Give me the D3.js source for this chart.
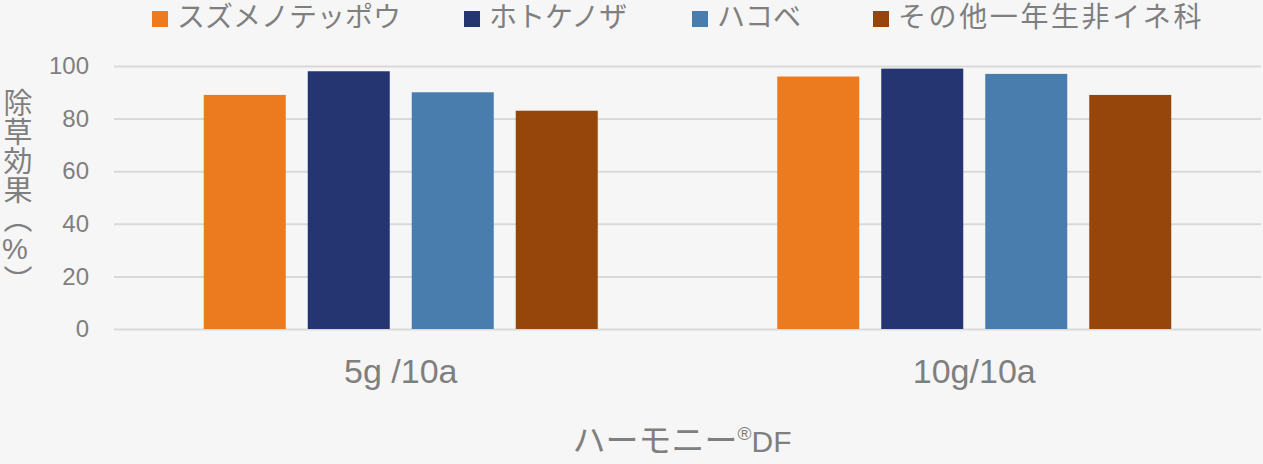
<!DOCTYPE html>
<html lang="ja">
<head>
<meta charset="utf-8">
<script src="https://cdn.jsdelivr.net/npm/d3@7"></script>
<style>
  html, body { margin: 0; padding: 0; background: #f6f6f6; }
  svg { display: block; }
</style>
</head>
<body>
<svg id="chart" width="1263" height="464" lang="ja"></svg>
<script>
const categories = ["5g /10a", "10g/10a"];
const seriesNames = ["スズメノテッポウ", "ホトケノザ", "ハコベ", "その他一年生非イネ科"];
const seriesColors = ["#EC7B20", "#243571", "#487DAE", "#96460A"];
const valuesSuzumeno = [89, 96];
const valuesHotokenoza = [98, 99];
const valuesHakobe = [90, 97];
const valuesOther = [83, 89];
const yTicks = [0, 20, 40, 60, 80, 100];
const yTitleHead = "除草効果（";
const yTitlePct = "%";
const yTitleTail = "）";
const xTitleMain = "ハーモニー";
const xTitleMark = "®";
const xTitleTail = "DF";

const seriesValues = [valuesSuzumeno, valuesHotokenoza, valuesHakobe, valuesOther];
const rows = categories.map((c, i) => ({
  cat: c,
  vals: seriesNames.map((s, j) => ({ key: s, value: seriesValues[j][i], color: seriesColors[j] }))
}));

const svg = d3.select("#chart");
const W = 1263, H = 464;
const plot = { left: 114, right: 1261, top: 66, bottom: 329 };
const textColor = "#7f7f7f";
const latin = "'Liberation Sans', Arial, sans-serif";
const cjk = "'Liberation Sans', 'Noto Sans CJK JP', sans-serif";

svg.append("rect").attr("width", W).attr("height", H).attr("fill", "#f6f6f6");

const x0 = d3.scaleBand().domain(categories).range([plot.left, plot.right]).padding(0);
const groupW = x0.bandwidth();
const outer = groupW * 0.1565;
const x1 = d3.scaleBand().domain(seriesNames).range([outer, groupW - outer]).paddingInner(0.2115).paddingOuter(0);
const y = d3.scaleLinear().domain([0, 100]).range([plot.bottom, plot.top]);

// gridlines + y tick labels
const yAxis = d3.axisLeft(y).tickValues(yTicks).tickSize(-(plot.right - plot.left)).tickPadding(25);
const gy = svg.append("g").attr("transform", `translate(${plot.left},0)`).call(yAxis);
gy.select(".domain").remove();
gy.selectAll(".tick line").attr("stroke", "#d9d9d9").attr("stroke-width", 2);
gy.selectAll(".tick text")
  .attr("fill", textColor)
  .style("font-family", latin)
  .style("font-size", "24px");

// bars
const groups = svg.append("g").selectAll("g").data(rows).join("g")
  .attr("transform", d => `translate(${x0(d.cat)},0)`);
groups.selectAll("rect").data(d => d.vals).join("rect")
  .attr("x", d => x1(d.key))
  .attr("width", x1.bandwidth())
  .attr("y", d => y(d.value))
  .attr("height", d => y(0) - y(d.value))
  .attr("fill", d => d.color);

// category labels
const xAxis = d3.axisBottom(x0).tickSize(0).tickPadding(0);
const gx = svg.append("g").attr("transform", `translate(0,${plot.bottom})`).call(xAxis);
gx.select(".domain").remove();
gx.selectAll(".tick text")
  .attr("y", 54)
  .attr("dy", null)
  .attr("fill", textColor)
  .style("font-family", latin)
  .style("font-size", "34px");

// x axis title
const xt = svg.append("text")
  .attr("x", 682)
  .attr("y", 452)
  .attr("text-anchor", "middle")
  .attr("fill", textColor)
  .style("font-family", cjk)
  .style("font-size", "33px");
xt.append("tspan").text(xTitleMain);
xt.append("tspan").style("font-size", "19px").attr("dy", -12).text(xTitleMark);
xt.append("tspan").style("font-size", "30px").attr("dy", 12).text(xTitleTail);

// y axis title (vertical)
const yt = svg.append("text")
  .attr("x", 15)
  .attr("y", 191)
  .attr("text-anchor", "middle")
  .attr("fill", textColor)
  .style("font-family", cjk)
  .style("font-size", "29px")
  .style("writing-mode", "vertical-rl")
  .style("text-orientation", "mixed");
yt.append("tspan").text(yTitleHead);
yt.append("tspan").style("text-orientation", "upright").text(yTitlePct);
yt.append("tspan").text(yTitleTail);

// legend
const legendStarts = [152, 464, 692, 873];
const leg = svg.append("g").selectAll("g").data(seriesNames).join("g")
  .attr("transform", (d, i) => `translate(${legendStarts[i]},0)`);
leg.append("rect").attr("x", 0).attr("y", 11).attr("width", 16).attr("height", 16)
  .attr("fill", (d, i) => seriesColors[i]);
leg.append("text").attr("x", 25).attr("y", 27)
  .attr("fill", textColor)
  .style("font-family", cjk)
  .style("font-size", "28px")
  .style("letter-spacing", (d, i) => i === 3 ? "2.6px" : "0px")
  .text(d => d);
</script>
</body>
</html>
